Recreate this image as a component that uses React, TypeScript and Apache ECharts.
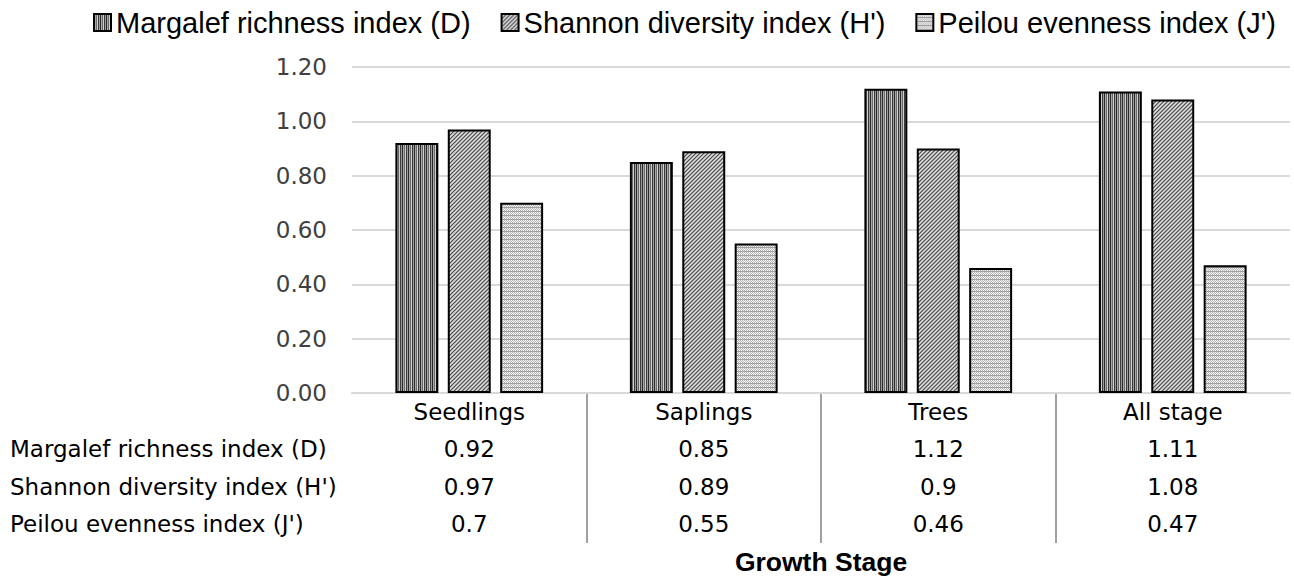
import React, { useEffect, useRef } from "react";
import * as echarts from "echarts";

const stages = ["Seedlings", "Saplings", "Trees", "All stage"];
const margalef = [0.92, 0.85, 1.12, 1.11];
const shannon = [0.97, 0.89, 0.9, 1.08];
const peilou = [0.7, 0.55, 0.46, 0.47];
const seriesNames = [
  "Margalef richness index (D)",
  "Shannon diversity index (H')",
  "Peilou evenness index (J')",
];
const yTicks = { min: 0, max: 1.2, interval: 0.2 };
const axisTitle = "Growth Stage";

const TABLE_FONT = "'DejaVu Sans', 'Open Sans', sans-serif";
const TABLE_SIZE = 23;
const ARIAL = "'Liberation Sans', Arial, sans-serif";
const ROW_H = 37.5;

// Builds a small repeating tile by painting it pixel by pixel.
function makeTile(w: number, h: number, paint: (x: number, y: number) => string) {
  const c = document.createElement("canvas");
  c.width = w;
  c.height = h;
  const ctx = c.getContext("2d")!;
  for (let y = 0; y < h; y++) {
    for (let x = 0; x < w; x++) {
      ctx.fillStyle = paint(x, y);
      ctx.fillRect(x, y, 1, 1);
    }
  }
  return { image: c, repeat: "repeat", imageWidth: w, imageHeight: h } as any;
}

function verticalStripes() {
  const cols = ["#2a2a2a", "#a8a8a8", "#6a6a6a", "#d0d0d0", "#3a3a3a", "#9c9c9c"];
  return makeTile(6, 1, (x) => cols[x]);
}

function diagonalHatch() {
  return makeTile(4, 4, (x, y) => {
    const d = (x + y) % 4;
    return d === 0 ? "#505050" : d === 1 ? "#a0a0a0" : d === 2 ? "#e0e0e0" : "#b4b4b4";
  });
}

function dottedLines() {
  return makeTile(4, 4, (x, y) => {
    if (y === 3) return "#a0a0a0";
    if ((x + y) % 2 === 0) return "#b8b8b8";
    return "#f2f2f2";
  });
}

export default function App() {
  const ref = useRef<HTMLDivElement>(null);

  useEffect(() => {
    if (!ref.current) return;
    const chart = echarts.init(ref.current, undefined, { renderer: "svg" });

    const fills = [verticalStripes(), diagonalHatch(), dottedLines()];
    const values = [margalef, shannon, peilou];

    const tableLabel = (value: string, index: number) =>
      [value, ...values.map((v) => String(v[index]))].join("\n");

    chart.setOption({
      animation: false,
      legend: {
        top: 3,
        left: 88,
        icon: "rect",
        itemWidth: 17,
        itemHeight: 17,
        itemGap: 30,
        textStyle: { fontFamily: ARIAL, fontSize: 29, color: "#000" },
        data: seriesNames,
      },
      grid: { left: 352, right: 4, top: 67, bottom: 188 },
      xAxis: {
        type: "category",
        data: stages,
        axisLine: { lineStyle: { color: "#d9d9d9", width: 2 } },
        axisTick: { show: false },
        axisLabel: {
          margin: 0,
          lineHeight: ROW_H,
          fontFamily: TABLE_FONT,
          fontSize: TABLE_SIZE,
          color: "#000",
          formatter: tableLabel,
        },
        name: axisTitle,
        nameLocation: "middle",
        nameGap: 155,
        nameTextStyle: { fontFamily: ARIAL, fontWeight: "bold", fontSize: 26.5, color: "#000" },
      },
      yAxis: {
        type: "value",
        min: yTicks.min,
        max: yTicks.max,
        interval: yTicks.interval,
        axisLine: { show: false },
        axisTick: { show: false },
        splitLine: { lineStyle: { color: "#d9d9d9", width: 2 } },
        axisLabel: {
          margin: 25,
          fontFamily: TABLE_FONT,
          fontSize: TABLE_SIZE,
          color: "#404040",
          formatter: (v: number) => v.toFixed(2),
        },
      },
      series: seriesNames.map((name, i) => ({
        name,
        type: "bar",
        data: values[i],
        barGap: "22%",
        barCategoryGap: "37%",
        itemStyle: { color: fills[i], borderColor: "#000", borderWidth: 2 },
      })),
    });

    // Category separators and row headers for the data table below the axis.
    const centers = stages.map((_, i) => chart.convertToPixel({ xAxisIndex: 0 }, i) as number);
    const axisY = chart.convertToPixel({ yAxisIndex: 0 }, 0) as number;
    const graphics: any[] = [];
    for (let i = 0; i < centers.length - 1; i++) {
      const x = Math.round((centers[i] + centers[i + 1]) / 2);
      graphics.push({
        type: "line",
        shape: { x1: x, y1: axisY, x2: x, y2: axisY + 150 },
        style: { stroke: "#a0a0a0", lineWidth: 2 },
        silent: true,
      });
    }
    seriesNames.forEach((name, i) => {
      graphics.push({
        type: "text",
        x: 10,
        y: axisY + ROW_H * (i + 1.5),
        style: {
          text: name,
          fontFamily: TABLE_FONT,
          fontSize: TABLE_SIZE,
          fill: "#000",
          verticalAlign: "middle",
          align: "left",
        },
      });
    });
    chart.setOption({ graphic: graphics });

    return () => chart.dispose();
  }, []);

  return (
    <div
      ref={ref}
      style={{ position: "absolute", left: 0, top: 0, width: 1294, height: 581 }}
    />
  );
}
